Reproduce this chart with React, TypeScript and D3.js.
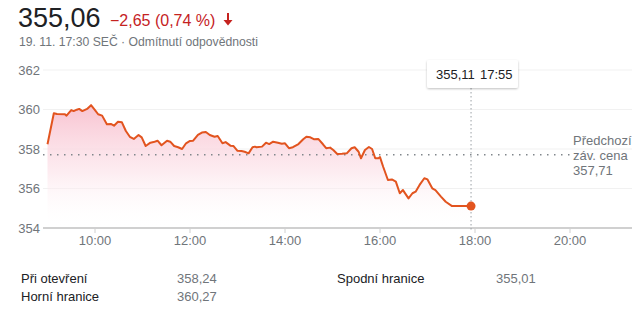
import React from "react";
import * as d3 from "d3";

const times = ["9:00","9:08","9:12","9:22","9:24","9:30","9:33","9:37","9:40","9:44","9:50","9:55","10:00","10:04","10:09","10:15","10:20","10:24","10:29","10:34","10:39","10:44","10:49","10:55","10:59","11:04","11:10","11:14","11:19","11:24","11:31","11:35","11:40","11:45","11:50","11:55","12:00","12:04","12:10","12:15","12:20","12:25","12:31","12:35","12:41","12:45","12:51","12:55","13:00","13:05","13:09","13:14","13:19","13:22","13:24","13:31","13:36","13:40","13:45","13:51","13:56","14:00","14:05","14:10","14:17","14:23","14:27","14:32","14:37","14:42","14:48","14:52","14:57","15:01","15:06","15:12","15:18","15:24","15:28","15:33","15:36","15:41","15:46","15:50","15:54","15:58","16:00","16:04","16:10","16:15","16:20","16:25","16:29","16:36","16:41","16:45","16:50","16:56","17:00","17:06","17:10","17:17","17:23","17:31","17:55"];
const prices = [358.24,359.81,359.77,359.76,359.69,359.97,359.92,359.99,360.03,359.92,360.03,360.22,359.97,359.76,359.69,359.25,359.27,359.18,359.38,359.35,358.91,358.62,358.51,358.71,358.59,358.15,358.32,358.35,358.42,358.19,358.42,358.37,358.15,358.09,358.0,358.29,358.41,358.42,358.71,358.83,358.86,358.71,358.62,358.66,358.29,358.35,358.17,358.15,357.91,357.9,357.86,357.78,358.09,358.12,358.09,358.12,358.32,358.25,358.37,358.32,358.27,358.29,358.04,358.09,358.25,358.49,358.62,358.59,358.49,358.51,358.24,358.04,358.07,357.95,357.75,357.76,357.78,358.04,358.09,357.86,357.53,357.95,358.1,358.0,357.53,357.53,357.59,357.1,356.43,356.46,356.35,355.76,355.92,355.5,355.76,355.84,356.18,356.52,356.46,356.01,355.92,355.59,355.33,355.11,355.11];

const yTicks = [354, 356, 358, 360, 362];
const xTicks = [10, 12, 14, 16, 18, 20];
const prevClose = 357.71;
const prevCloseLabel = ["Předchozí", "záv. cena", "357,71"];
const headerPrice = "355,06";
const headerChange = "−2,65 (0,74 %)";
const headerSub = "19. 11. 17:30 SEČ · Odmítnutí odpovědnosti";
const tooltipValue = "355,11";
const tooltipTime = "17:55";
const statLabels = ["Při otevření", "Horní hranice", "Spodní hranice"];
const statValues = ["358,24", "360,27", "355,01"];

const toHours = (s: string) => {
  const [h, m] = s.split(":").map(Number);
  return h + m / 60;
};

const data = times.map((t, i) => ({ t: toHours(t), v: prices[i] }));

export default function App() {
  const W = 640, H = 312;
  const left = 43, right = 632;
  const x = d3.scaleLinear().domain([9, 20]).range([47.5, 570]);
  const y = d3.scaleLinear().domain([354, 362]).range([228, 70]);
  const line = d3.line<{ t: number; v: number }>().x(d => x(d.t)).y(d => y(d.v));
  const area = d3.area<{ t: number; v: number }>().x(d => x(d.t)).y0(y(354)).y1(d => y(d.v));
  const last = data[data.length - 1];
  const lx = x(last.t);
  const ly = y(last.v);
  const gray = "#70757a";
  const red = "#c5221f";
  const lineColor = "#e2541f";
  const font = "'Liberation Sans', Arial, sans-serif";

  return (
    <svg width={W} height={H} style={{ position: "absolute", left: 0, top: 0, background: "#fff" }} fontFamily={font}>
      <defs>
        <linearGradient id="fg" x1="0" y1={y(360.3)} x2="0" y2={y(354)} gradientUnits="userSpaceOnUse">
          <stop offset="0" stopColor="#f8c2d0" stopOpacity="1" />
          <stop offset="0.55" stopColor="#fce2e9" stopOpacity="0.65" />
          <stop offset="1" stopColor="#ffffff" stopOpacity="0" />
        </linearGradient>
        <filter id="sh" x="-20%" y="-30%" width="140%" height="170%">
          <feDropShadow dx="0" dy="1" stdDeviation="1.2" floodColor="#000" floodOpacity="0.25" />
        </filter>
      </defs>

      {/* Header */}
      <text x={18} y={27} fontSize={27} fill="#202124">{headerPrice}</text>
      <text x={110} y={26} fontSize={16} fill={red}>{headerChange}</text>
      <g transform="translate(228,20)" fill={red}>
        <rect x={-1} y={-7} width={2} height={8} />
        <path d="M-4.5,0 L4.5,0 L0,5.5 Z" />
      </g>
      <text x={19} y={46} fontSize={12.2} fill={gray}>{headerSub}</text>

      {/* gridlines */}
      {yTicks.filter(t => t !== 354).map(t => (
        <line key={t} x1={left} x2={right} y1={y(t)} y2={y(t)} stroke="#f1f1f1" strokeWidth={1} />
      ))}
      {yTicks.map(t => (
        <text key={"yl" + t} x={40} y={y(t) + 4.5} fontSize={13} fill={gray} textAnchor="end">{t}</text>
      ))}

      {/* area + line */}
      <path d={area(data) || ""} fill="url(#fg)" />
      <line x1={left} x2={570} y1={y(prevClose)} y2={y(prevClose)} stroke="#80868b" strokeWidth={1.5} strokeDasharray="1.5 5.5" />
      <path d={line(data) || ""} fill="none" stroke={lineColor} strokeWidth={2} strokeLinejoin="round" />

      {/* axis */}
      <line x1={left} x2={right} y1={y(354)} y2={y(354)} stroke="#d0d0d0" strokeWidth={2} />
      {xTicks.map(t => (
        <g key={"xt" + t}>
          <line x1={x(t)} x2={x(t)} y1={y(354)} y2={y(354) + 5} stroke="#d0d0d0" strokeWidth={1} />
          <text x={x(t)} y={245} fontSize={13} fill={gray} textAnchor="middle">{`${t}:00`}</text>
        </g>
      ))}

      {/* prev close label */}
      {prevCloseLabel.map((s, i) => (
        <text key={s} x={573} y={145 + i * 15} fontSize={13} fill={gray}>{s}</text>
      ))}

      {/* hover */}
      <line x1={lx} x2={lx} y1={88} y2={y(354) + 4} stroke="#9aa0a6" strokeWidth={1} strokeDasharray="1.5 2.5" />
      <circle cx={lx} cy={ly} r={4.5} fill={lineColor} />
      <rect x={427} y={60} width={91} height={28} rx={2} fill="#fff" filter="url(#sh)" />
      <text x={436} y={78.5} fontSize={13} fill="#202124">{tooltipValue}</text>
      <text x={480} y={78.5} fontSize={13} fill="#202124">{tooltipTime}</text>

      {/* stats */}
      <g fontSize={13}>
        <text x={21} y={283} fill="#202124">{statLabels[0]}</text>
        <text x={177} y={283} fill={gray}>{statValues[0]}</text>
        <text x={21} y={301} fill="#202124">{statLabels[1]}</text>
        <text x={177} y={301} fill={gray}>{statValues[1]}</text>
        <text x={337} y={283} fill="#202124">{statLabels[2]}</text>
        <text x={496} y={283} fill={gray}>{statValues[2]}</text>
      </g>
    </svg>
  );
}
